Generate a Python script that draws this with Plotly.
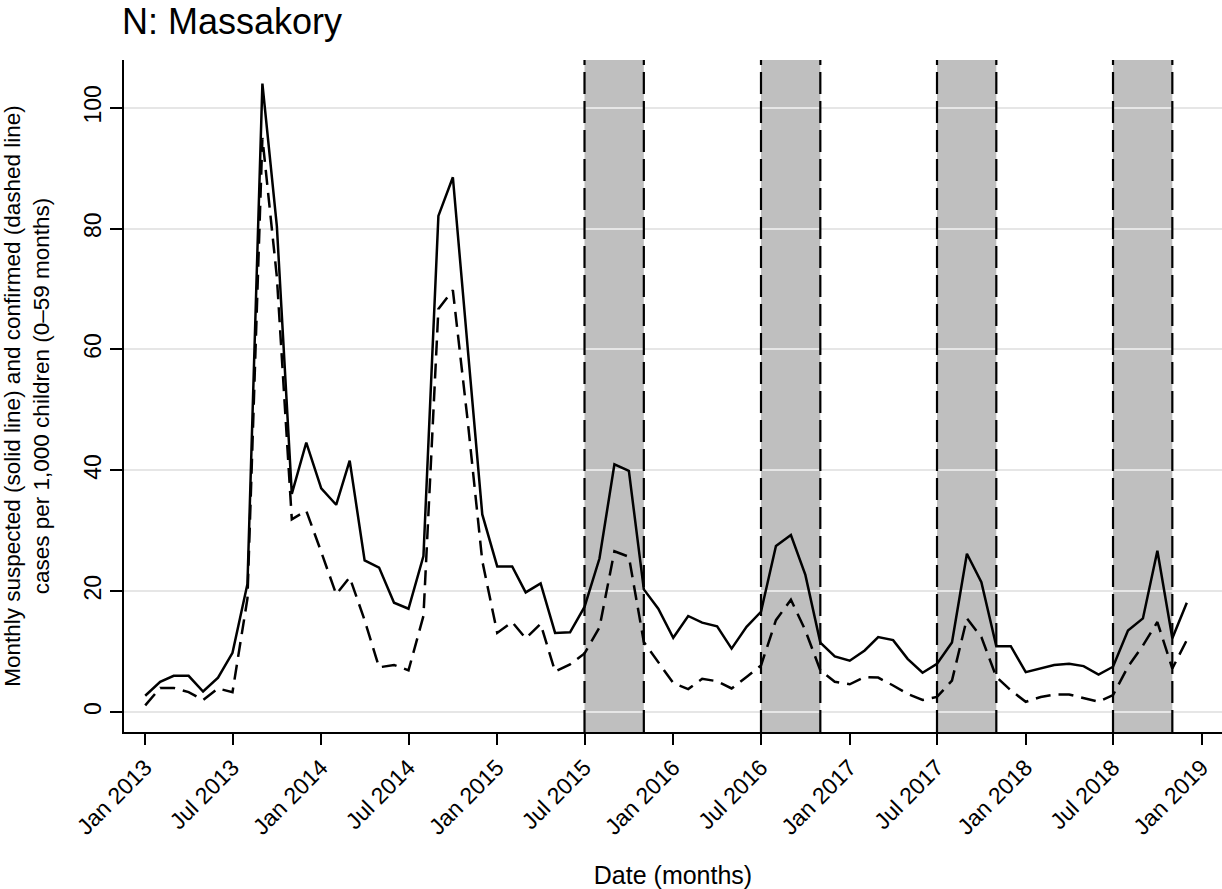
import plotly.graph_objects as go
import pandas as pd

months = pd.date_range("2013-01-01", periods=72, freq="MS")

suspected = [2.7, 5.0, 6.0, 6.0, 3.4, 5.7, 9.8, 21.2, 104.0, 80.4, 36.1, 44.6,
             37.0, 34.3, 41.6, 25.1, 23.9, 18.1, 17.1, 25.8, 82.1, 88.5, 60.0, 32.7,
             24.1, 24.1, 19.8, 21.3, 13.1, 13.2, 17.4, 25.4, 41.0, 39.9, 20.3, 17.1,
             12.3, 15.9, 14.8, 14.2, 10.5, 14.1, 16.6, 27.5, 29.3, 22.7, 11.5, 9.2,
             8.5, 10.2, 12.4, 11.9, 8.8, 6.5, 8.0, 11.5, 26.2, 21.5, 10.9, 10.9,
             6.6, 7.2, 7.8, 8.0, 7.6, 6.2, 7.5, 13.5, 15.5, 26.7, 12.2, 18.1]

confirmed = [1.1, 4.0, 4.0, 3.3, 2.0, 3.9, 3.3, 18.8, 95.0, 72.0, 31.9, 33.3,
             26.5, 19.5, 22.3, 15.2, 7.4, 7.8, 6.9, 15.9, 66.7, 69.8, 48.0, 25.0,
             13.1, 14.9, 12.2, 14.6, 6.7, 7.9, 9.7, 14.0, 26.6, 25.7, 11.6, 8.2,
             4.8, 3.8, 5.5, 5.1, 3.9, 5.8, 7.7, 15.2, 18.6, 13.5, 6.9, 5.0,
             4.6, 5.8, 5.7, 4.4, 3.0, 2.0, 2.5, 5.2, 15.5, 12.4, 5.8, 3.6,
             1.7, 2.5, 2.9, 2.9, 2.3, 1.7, 2.8, 7.5, 11.0, 14.9, 7.2, 11.9]

shade_start = ["2015-07-01", "2016-07-01", "2017-07-01", "2018-07-01"]
shade_end = ["2015-11-01", "2016-11-01", "2017-11-01", "2018-11-01"]

tick_dates = pd.date_range("2013-01-01", "2019-01-01", freq="6MS")
tick_labels = [d.strftime("%b %Y") for d in tick_dates]
y_ticks = [0, 20, 40, 60, 80, 100]

fig = go.Figure()

for s, e in zip(shade_start, shade_end):
    fig.add_vrect(x0=s, x1=e, fillcolor="#bfbfbf", opacity=1, line_width=0, layer="below")
    for xv in (s, e):
        fig.add_shape(type="line", x0=xv, x1=xv, xref="x", y0=0, y1=1, yref="paper",
                      line=dict(color="black", width=2.2, dash="22px,7px"), layer="above")

fig.add_trace(go.Scatter(x=months, y=suspected, mode="lines",
                         line=dict(color="black", width=2.5), showlegend=False))
fig.add_trace(go.Scatter(x=months, y=confirmed, mode="lines",
                         line=dict(color="black", width=2.5, dash="15px,8px"), showlegend=False))

font = "Liberation Sans, Arial, sans-serif"

fig.update_layout(
    width=1222, height=889,
    margin=dict(l=124, r=0, t=60, b=157),
    paper_bgcolor="white", plot_bgcolor="white",
    font=dict(family=font, color="black", size=23),
    title=dict(text="N: Massakory", x=122 / 1222, xanchor="left", y=1 - 21 / 889,
               yanchor="middle", font=dict(size=36, family=font, color="black")),
    showlegend=False,
)

fig.update_xaxes(
    type="date",
    range=["2012-11-18", "2019-02-12"],
    tickvals=tick_dates, ticktext=tick_labels, tickangle=-45,
    ticks="outside", ticklen=11, tickwidth=2, tickcolor="black",
    showline=True, linecolor="black", linewidth=2,
    showgrid=False, zeroline=False, automargin=False,
    tickfont=dict(size=23),
    title=dict(text="Date (months)", font=dict(size=25), standoff=40),
)

fig.update_yaxes(
    range=[-3.3, 107.9],
    tickvals=y_ticks, tickangle=-90,
    ticks="outside", ticklen=12, tickwidth=2, tickcolor="black",
    showline=True, linecolor="black", linewidth=2,
    showgrid=True, gridcolor="#e6e6e6", gridwidth=2,
    zeroline=False, automargin=False,
    tickfont=dict(size=23),
    title=dict(text="Monthly suspected (solid line) and confirmed (dashed line)<br>cases per 1,000 children (0\u201359 months)",
               font=dict(size=22.5), standoff=24),
)

fig.write_html("out.html")
